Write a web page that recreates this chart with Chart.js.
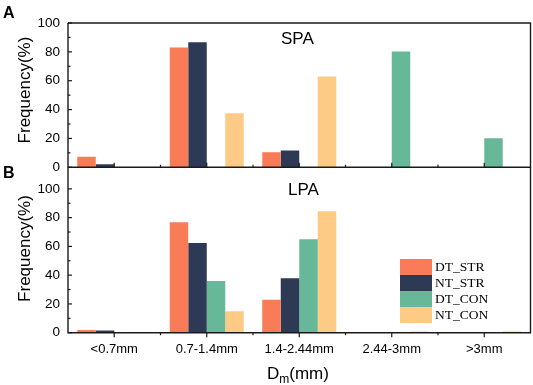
<!DOCTYPE html>
<html><head><meta charset="utf-8">
<script src="https://cdn.jsdelivr.net/npm/chart.js@4/dist/chart.umd.min.js"></script>
<style>
html,body{margin:0;padding:0;background:#fff;}
#wrap{position:relative;width:533px;height:385px;background:#fff;}
canvas{position:absolute;left:0;top:0;}
</style></head><body>
<div id="wrap"><canvas id="cA" width="533" height="385"></canvas><canvas id="cB" width="533" height="385"></canvas></div>
<script>
// ---- data ----
const categories = ['<0.7mm', '0.7-1.4mm', '1.4-2.44mm', '2.44-3mm', '>3mm'];
const seriesNames = ['DT_STR', 'NT_STR', 'DT_CON', 'NT_CON'];
// Panel A (SPA)
const spaDT_STR = [7.3, 83, 10.5, 0, 0];
const spaNT_STR = [2.2, 86.7, 11.7, 0, 0];
const spaDT_CON = [0, 0, 0, 80.2, 20.2];
const spaNT_CON = [0, 37.4, 63, 0, 0];
// Panel B (LPA)
const lpaDT_STR = [1.9, 76.8, 22.9, 0, 0];
const lpaNT_STR = [1.5, 62.4, 37.8, 0, 0];
const lpaDT_CON = [0, 35.9, 64.9, 0.4, 0];
const lpaNT_CON = [0, 14.9, 84.5, 0.8, 0.8];
const yTickValues = [0, 20, 40, 60, 80, 100];
const panelTitles = ['SPA', 'LPA'];
const panelLetters = ['A', 'B'];
const yAxisTitle = 'Frequency(%)';

// ---- styles ----
const colors = ['#F97B57', '#2E3A55', '#66B899', '#FECB87'];
const SANS = '"Liberation Sans", Arial, sans-serif';
const SERIF = '"Liberation Serif", "Times New Roman", serif';

function makeDatasets(arrs) {
  return arrs.map((d, i) => ({
    label: seriesNames[i], data: d, backgroundColor: colors[i],
    borderWidth: 0, barPercentage: 1.0, categoryPercentage: 0.8
  }));
}

function line(ctx, x1, y1, x2, y2) { ctx.beginPath(); ctx.moveTo(x1, y1); ctx.lineTo(x2, y2); ctx.stroke(); }

function decoPlugin(o) {
  return {
    id: 'deco',
    afterDatasetsDraw(chart) {
      const ctx = chart.ctx, a = chart.chartArea;
      const xs = chart.scales.x, ys = chart.scales.y;
      ctx.save();
      ctx.strokeStyle = '#1a1a1a';
      ctx.lineWidth = 1.4;
      ctx.beginPath();
      ctx.moveTo(a.left, a.top); ctx.lineTo(a.left, a.bottom); ctx.lineTo(a.right, a.bottom); ctx.lineTo(a.right, a.top);
      if (o.topBorder) ctx.lineTo(a.left, a.top);
      ctx.stroke();
      ctx.lineWidth = 1.2;
      const tv = ys.ticks.map(t => t.value);
      tv.forEach((v, i) => {
        const y = ys.getPixelForValue(v);
        line(ctx, a.left, y, a.left + 4, y);
        if (i < tv.length - 1) {
          const ym = ys.getPixelForValue((v + tv[i + 1]) / 2);
          line(ctx, a.left, ym, a.left + 2.5, ym);
        }
      });
      const dir = o.xInside ? -1 : 1;
      for (let i = 0; i < categories.length; i++) {
        const x = xs.getPixelForValue(i);
        line(ctx, x, a.bottom, x, a.bottom + dir * 4.5);
        if (i > 0) {
          const xb = (xs.getPixelForValue(i - 1) + x) / 2;
          line(ctx, xb, a.bottom, xb, a.bottom + dir * 2.5);
        }
      }
      // panel title
      ctx.fillStyle = '#000';
      ctx.font = '17px ' + SANS;
      ctx.textAlign = 'left'; ctx.textBaseline = 'alphabetic';
      ctx.fillText(o.title, o.titleX, o.titleY);
      // panel letter
      ctx.font = 'bold 16px ' + SANS;
      ctx.fillText(o.letter, 3, o.letterY);
      // y axis title
      ctx.save();
      ctx.translate(25, o.yTitleY);
      ctx.rotate(-Math.PI / 2);
      ctx.font = '17px ' + SANS;
      ctx.textAlign = 'center'; ctx.textBaseline = 'middle';
      ctx.fillText(yAxisTitle, 0, 0);
      ctx.restore();
      if (o.legend) {
        const lx = 400, ly = 259, bw = 32, bh = 16;
        ctx.font = '13.5px ' + SERIF;
        ctx.textBaseline = 'middle';
        chart.data.datasets.forEach((ds, i) => {
          ctx.fillStyle = ds.backgroundColor;
          ctx.fillRect(lx, ly + i * bh, bw, bh);
          ctx.fillStyle = '#000';
          ctx.fillText(ds.label, lx + bw + 3, ly + i * bh + bh / 2 + 0.5);
        });
      }
      if (o.xTitle) {
        ctx.fillStyle = '#000';
        ctx.textBaseline = 'alphabetic';
        let x = 267;
        const by = 378.5;
        ctx.font = '17px ' + SANS;
        ctx.fillText('D', x, by); x += ctx.measureText('D').width;
        ctx.font = '12px ' + SANS;
        ctx.fillText('m', x, by + 4.5); x += ctx.measureText('m').width;
        ctx.font = '17px ' + SANS;
        ctx.fillText('(mm)', x, by);
      }
      ctx.restore();
    }
  };
}

function makeChart(id, arrs, yMax, o) {
  return new Chart(document.getElementById(id), {
    type: 'bar',
    data: { labels: categories, datasets: makeDatasets(arrs) },
    options: {
      responsive: false, animation: false, devicePixelRatio: 1,
      layout: { padding: o.padding },
      plugins: { legend: { display: false }, tooltip: { enabled: false } },
      scales: {
        x: {
          grid: { display: false, drawTicks: false }, border: { display: false },
          ticks: { display: o.xLabels, padding: 9, color: '#000', font: { family: SANS, size: 13 }, maxRotation: 0, autoSkip: false },
          afterFit: s => { s.height = o.xHeight; }
        },
        y: {
          min: 0, max: yMax,
          grid: { display: false, drawTicks: false }, border: { display: false },
          afterBuildTicks: s => { s.ticks = yTickValues.map(v => ({ value: v })); },
          ticks: { padding: 8, color: '#000', font: { family: SANS, size: 13.5 } },
          afterFit: s => { s.width = 68; }
        }
      }
    },
    plugins: [decoPlugin(o)]
  });
}

makeChart('cA', [spaDT_STR, spaNT_STR, spaDT_CON, spaNT_CON], 100, {
  padding: { left: 0, right: 2.5, top: 23, bottom: 217.7 }, xLabels: false, xHeight: 0,
  topBorder: true, xInside: true, title: panelTitles[0], titleX: 281, titleY: 43.5,
  letter: panelLetters[0], letterY: 18, yTitleY: 90, legend: false, xTitle: false
});
makeChart('cB', [lpaDT_STR, lpaNT_STR, lpaDT_CON, lpaNT_CON], 115, {
  padding: { left: 0, right: 2.5, top: 167.3, bottom: 0 }, xLabels: true, xHeight: 52.3,
  topBorder: false, xInside: false, title: panelTitles[1], titleX: 288, titleY: 194.5,
  letter: panelLetters[1], letterY: 178, yTitleY: 248.5, legend: true, xTitle: true
});
</script>
</body></html>
